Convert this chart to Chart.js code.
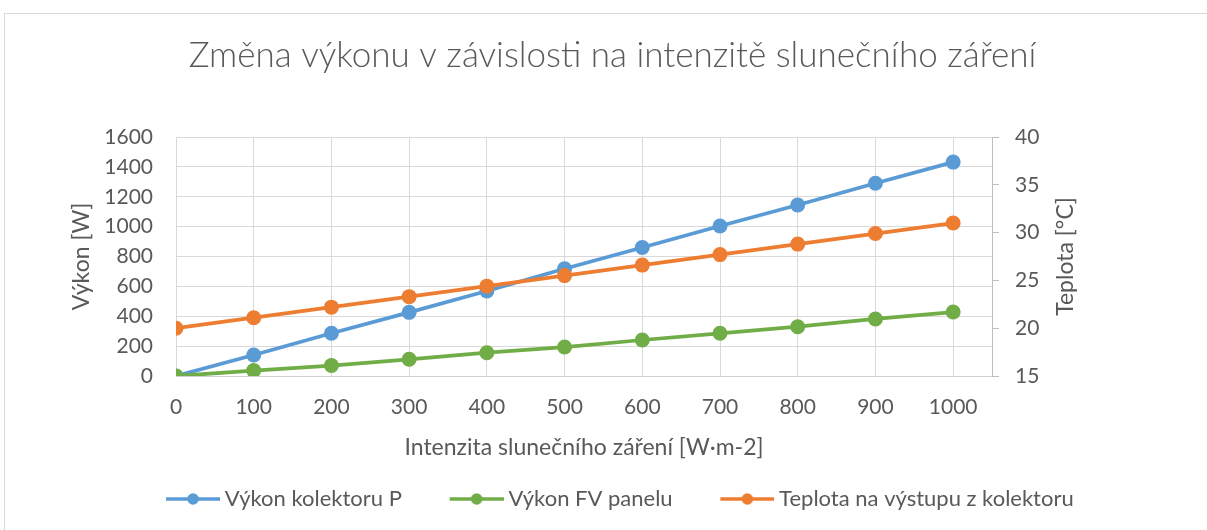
<!DOCTYPE html>
<html>
<head>
<meta charset="utf-8">
<script src="https://cdn.jsdelivr.net/npm/chart.js@4.4.0/dist/chart.umd.min.js"></script>
<style>
  html, body { margin: 0; padding: 0; background: #fff; }
  #wrap { width: 1207px; height: 530px; position: relative; }
</style>
</head>
<body>
<div id="wrap"><canvas id="chart"></canvas></div>
<script>
// intenzita slunečního záření [W·m-2]
const irradiance = [0, 100, 200, 300, 400, 500, 600, 700, 800, 900, 1000];
const collectorPower = [0, 141, 286, 426, 569, 718, 860, 1004, 1145, 1290, 1432];
const pvPower = [0, 36, 70, 112, 156, 194, 241, 286, 330, 382, 428];
const outletTemp = [20.0, 21.1, 22.2, 23.3, 24.4, 25.5, 26.6, 27.7, 28.8, 29.9, 31.0];

const seriesNames = ['Výkon kolektoru P', 'Výkon FV panelu', 'Teplota na výstupu z kolektoru'];
const chartTitle = 'Změna výkonu v závislosti na intenzitě slunečního záření';
const xTitle = 'Intenzita slunečního záření [W·m-2]';
const yLeftTitle = 'Výkon [W]';
const yRightTitle = 'Teplota [°C]';

const BLUE = '#5b9bd5', GREEN = '#70ad47', ORANGE = '#ed7d31';
const TXT = '#595959', GRID = '#d9d9d9';
const FONT = 'Lato, "Open Sans", sans-serif';

Chart.defaults.font.family = FONT;
Chart.defaults.color = TXT;

const pts = vals => irradiance.map((x, i) => ({ x: x, y: vals[i] }));

// legend marker: line with a dot, a bit of blank room on the left for item spacing
const ICON_W = 62.5;
function legendIcon(color) {
    const c = document.createElement('canvas');
    c.width = ICON_W + 13; c.height = 16;
    const g = c.getContext('2d');
    g.strokeStyle = color; g.lineWidth = 3.5;
    g.beginPath(); g.moveTo(c.width - 54, 8); g.lineTo(c.width, 8); g.stroke();
    g.fillStyle = color;
    g.beginPath(); g.arc(c.width - 27, 8, 5.8, 0, Math.PI * 2); g.fill();
    return c;
}

const frame = {
    id: 'frame',
    beforeDraw(chart) {
        const ctx = chart.ctx;
        ctx.save();
        ctx.fillStyle = '#fff';
        ctx.fillRect(0, 0, chart.width, chart.height);
        ctx.strokeStyle = GRID; ctx.lineWidth = 1;
        ctx.strokeRect(4.5, 13.5, 1400, 700);
        ctx.restore();
    },
    afterDraw(chart) {
        // right axis title, read bottom-to-top like the left one
        const a = chart.chartArea, ctx = chart.ctx;
        ctx.save();
        ctx.translate(1066, (a.top + a.bottom) / 2);
        ctx.rotate(-Math.PI / 2);
        ctx.font = '23px ' + FONT;
        ctx.fillStyle = TXT;
        ctx.textAlign = 'center'; ctx.textBaseline = 'middle';
        ctx.fillText(yRightTitle, 0, 0);
        ctx.restore();
    }
};

function line(label, data, color, axis, order) {
    return {
        label, data, yAxisID: axis, order,
        borderColor: color, backgroundColor: color,
        borderWidth: 3.75, pointRadius: 7.5, pointHoverRadius: 7.5,
        pointBorderWidth: 0, pointBackgroundColor: color,
        tension: 0, fill: false
    };
}

new Chart(document.getElementById('chart'), {
    type: 'line',
    data: {
        datasets: [
            line(seriesNames[0], pts(collectorPower), BLUE, 'y', 2),
            line(seriesNames[1], pts(pvPower), GREEN, 'y', 1),
            line(seriesNames[2], pts(outletTemp), ORANGE, 'y1', 0)
        ]
    },
    options: {
        responsive: true,
        maintainAspectRatio: false,
        animation: false,
        layout: { padding: { left: 18, right: 0, top: 0, bottom: 10 } },
        plugins: {
            tooltip: { enabled: false },
            title: {
                display: true, text: chartTitle, color: TXT,
                font: { size: 35, weight: '300' },
                padding: { top: 35, bottom: 60 }
            },
            legend: {
                position: 'bottom',
                labels: {
                    usePointStyle: true, pointStyleWidth: ICON_W,
                    font: { size: 22 }, color: TXT, padding: 33,
                    generateLabels: chart => chart.data.datasets.map((ds, i) => ({
                        text: ds.label, datasetIndex: i, hidden: false,
                        pointStyle: legendIcon(ds.borderColor),
                        fillStyle: ds.borderColor, strokeStyle: ds.borderColor,
                        lineWidth: 0, fontColor: TXT
                    }))
                }
            }
        },
        scales: {
            x: {
                type: 'linear', min: 0, max: 1050,
                afterBuildTicks: s => { s.ticks = irradiance.map(v => ({ value: v })); },
                afterFit: s => { s.height = 79; },
                ticks: { font: { size: 21 }, padding: 19, color: TXT, callback: v => String(v) },
                grid: { color: GRID, drawTicks: false },
                border: { color: '#cfcfcf' },
                title: { display: true, text: xTitle, font: { size: 23 }, color: TXT, padding: { top: 4, bottom: -6.8 } }
            },
            y: {
                position: 'left', min: 0, max: 1600,
                afterFit: s => { s.width = 158; },
                ticks: { stepSize: 200, font: { size: 21 }, padding: 23, color: TXT, callback: v => String(v) },
                grid: { color: GRID, drawTicks: false },
                border: { display: false },
                title: { display: true, text: yLeftTitle, font: { size: 23 }, color: TXT, padding: { top: 50, bottom: 4 } }
            },
            y1: {
                position: 'right', min: 15, max: 40,
                afterFit: s => { s.width = 215; },
                ticks: { stepSize: 5, font: { size: 21 }, padding: 16, color: TXT, callback: v => String(v) },
                grid: { drawOnChartArea: false, drawTicks: true, tickLength: 7, color: '#bfbfbf' },
                border: { color: '#bfbfbf' },
                title: { display: false }
            }
        }
    },
    plugins: [frame]
});
</script>
</body>
</html>
